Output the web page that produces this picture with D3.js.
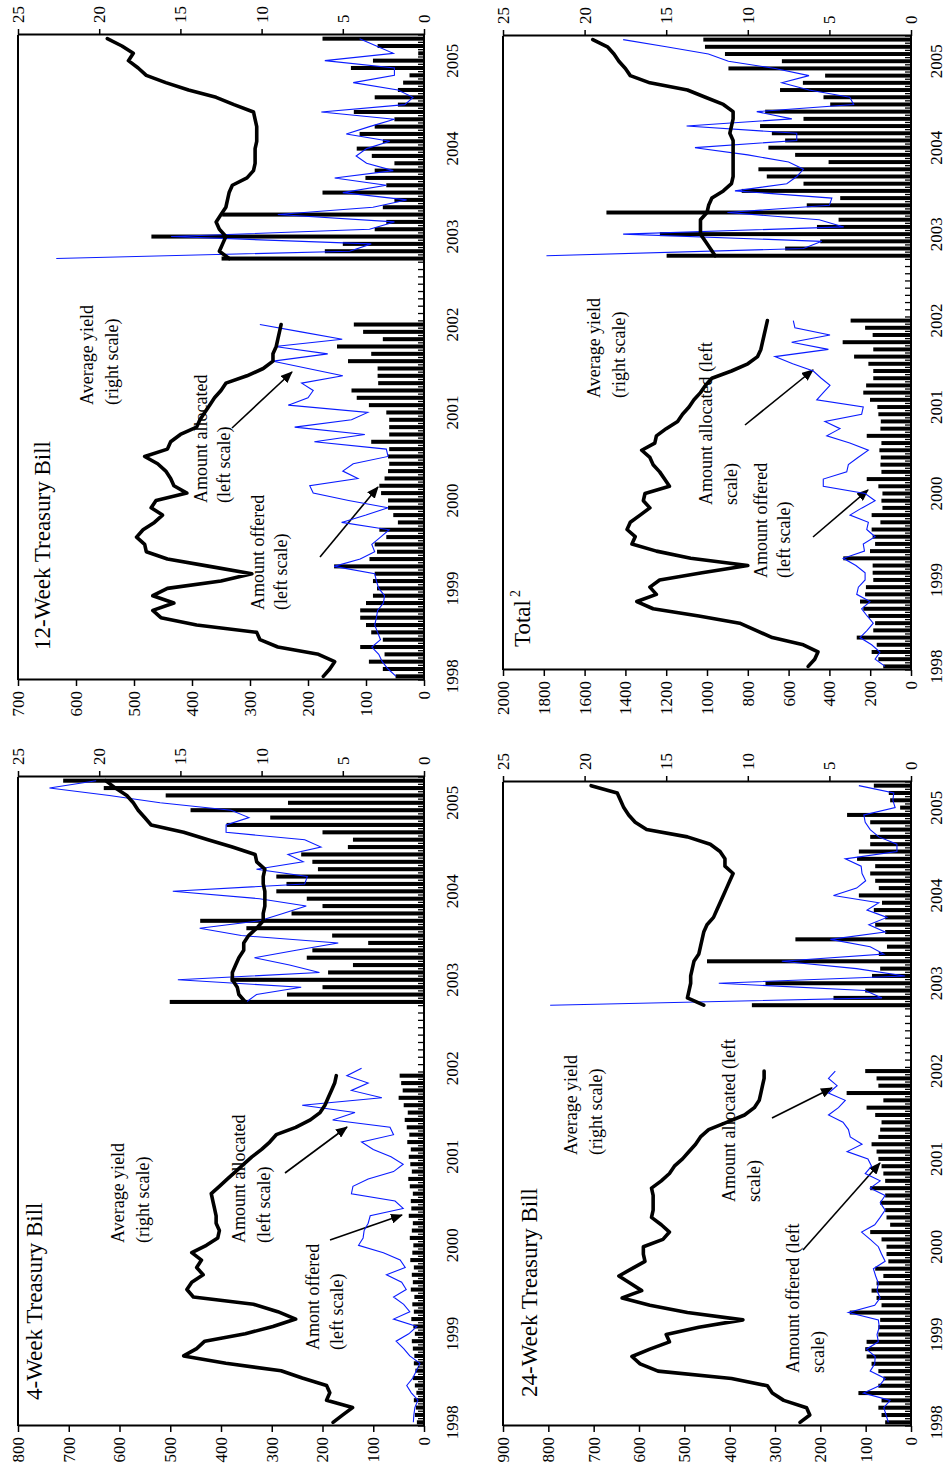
<!DOCTYPE html>
<html><head><meta charset="utf-8">
<script src="https://cdn.jsdelivr.net/npm/d3@7"></script>
<style>
body{margin:0;background:#fff}
svg{display:block}
text{font-family:"Liberation Serif","Times New Roman",serif;fill:#000}
</style>
</head><body>
<svg id="c" width="945" height="1473"></svg>
<script>
// ---------- categories (monthly, Jan 1998 - Apr 2005) ----------
const years = ["1998","1999","2000","2001","2002","2003","2004","2005"];
const monthNames = ["Jan","Feb","Mar","Apr","May","Jun","Jul","Aug","Sep","Oct","Nov","Dec"];
const categories = [];
years.forEach(y => monthNames.forEach(m => categories.push(m + " " + y)));
categories.length = 88;
const postStart = 57; // first month after the 2002 gap (Oct 2002)

// ---------- 4-week bill ----------
const offered4Pre = [14,18,16,20,15,18,22,17,20,19,22,24,18,21,25,20,23,19,26,22,24,20,27,23,21,28,24,22,30,25,26,22,28,31,24,27,30,26,33,29,34,38,32,40,50,42,45,48];
const offered4Post = [501,270,200,381,189,140,231,220,110,181,350,441,261,200,231,291,271,291,209,220,242,150,140,200,389,303,460,268,509,631,711];
const alloc4Pre = [21,20,18,12,25,34,22,15,8,28,40,55,30,14,60,28,40,60,35,44,74,37,47,80,129,120,118,110,106,41,57,143,140,110,60,41,65,100,123,60,67,180,136,240,83,143,110,152,123];
const alloc4Post = [350,330,242,485,206,265,334,252,169,360,442,324,278,232,324,495,235,230,330,238,268,203,235,390,390,345,380,520,620,738,646];
const yield4Pre = [5.6,5.0,4.4,6.0,5.8,6.0,7.5,8.8,12.2,14.8,14.0,13.5,11.0,9.3,7.9,9.0,10.5,14.2,14.6,14.3,13.6,14.0,13.7,14.3,13.4,12.7,12.6,12.8,12.8,12.9,13.0,13.1,12.6,12.1,11.6,11.1,10.6,10.0,9.5,9.1,7.9,7.0,6.4,6.1,5.9,5.7,5.5,5.4];
const yield4Post = [11.0,11.4,11.5,11.8,11.8,11.6,11.4,11.1,11.1,10.8,10.3,9.9,9.9,9.8,9.8,9.8,9.9,9.9,9.8,10.3,10.4,11.8,13.3,14.8,16.8,17.2,17.6,17.9,18.3,19.0,19.6];

// ---------- 12-week bill ----------
const offered12Pre = [49,71,95,68,110,71,91,100,110,110,100,88,81,88,85,155,94,81,85,65,77,45,53,62,62,74,77,68,62,60,62,60,91,60,60,60,65,95,116,125,79,80,80,131,91,150,71,105,121];
const offered12Post = [349,171,140,470,85,65,348,71,51,175,65,101,85,51,90,116,71,111,85,51,121,45,85,45,36,25,126,88,10,80,175];
const alloc12Pre = [48,62,72,78,90,75,80,85,82,80,70,68,78,82,85,155,110,85,90,75,60,142,100,62,130,191,197,114,140,122,62,65,189,102,223,125,97,234,200,191,211,140,200,260,166,257,141,212,283];
const alloc12Post = [634,128,91,436,94,51,252,88,30,140,65,154,53,99,117,99,59,134,94,51,177,33,19,45,122,51,51,171,53,82,111];
const yield12Pre = [6.2,5.8,5.5,6.5,9.0,10.1,10.3,14.0,16.2,16.7,15.4,16.7,15.8,12.5,10.6,13.2,15.8,17.1,17.2,17.7,17.3,16.6,16.1,16.8,16.5,14.6,15.4,15.6,15.9,16.4,17.2,15.8,15.6,15.0,14.0,13.8,13.5,13.2,12.9,12.5,12.2,10.9,9.9,9.3,9.3,9.1,9.0,8.9,8.8];
const yield12Post = [12.0,12.6,12.4,12.2,12.6,12.8,12.5,12.2,12.1,12.0,11.8,10.9,10.5,10.4,10.4,10.4,10.3,10.3,10.3,10.4,10.5,11.7,12.8,14.5,15.9,17.1,17.6,18.2,17.9,18.6,19.5];

// ---------- 24-week bill ----------
const offered24Pre = [57,65,72,65,116,72,61,72,87,98,101,98,72,72,68,135,65,76,87,76,61,79,50,54,54,65,90,46,54,57,68,57,90,57,61,65,72,76,87,72,68,65,79,98,61,142,72,76,101];
const offered24Post = [351,171,101,321,86,68,450,71,53,255,57,79,57,82,64,115,71,79,90,79,119,115,90,90,68,90,141,24,46,49,82];
const alloc24Pre = [50,55,60,46,105,70,57,90,80,79,98,72,75,70,72,138,80,68,75,72,78,83,57,65,72,90,109,80,68,57,68,57,90,68,101,87,95,141,108,134,138,150,182,160,145,182,163,182,167];
const alloc24Post = [796,64,101,424,13,120,285,60,90,178,57,93,53,97,71,171,120,100,108,110,145,31,31,71,90,101,104,35,40,38,115];
const yield24Pre = [6.8,6.2,6.4,7.8,8.5,8.8,11.0,15.5,16.6,17.1,16.0,14.8,15.0,13.0,10.3,13.7,16.0,17.7,16.5,17.2,17.9,17.1,16.3,16.4,16.4,15.2,14.8,15.3,15.9,15.8,15.8,15.8,15.9,15.3,14.8,14.5,14.0,13.6,13.2,12.9,12.4,11.3,10.2,9.6,9.3,9.2,9.1,9.0,9.0];
const yield24Post = [12.7,13.7,13.6,13.5,13.5,13.4,13.3,13.0,12.9,12.8,12.7,12.5,12.1,11.9,11.7,11.5,11.3,11.1,10.9,11.4,11.4,11.7,12.3,13.7,16.2,16.9,17.3,17.6,17.8,18.0,19.6];

// ---------- Total ----------
const offeredTPre = [136,160,193,168,266,185,176,209,234,250,225,221,185,188,188,332,201,176,188,193,150,193,140,145,140,160,217,145,150,148,155,145,217,150,148,160,165,201,234,220,185,185,209,279,185,335,188,225,296];
const offeredTPost = [1198,617,445,1231,461,355,1493,511,347,830,527,707,748,404,568,699,617,682,740,527,715,396,429,642,530,421,895,633,912,1010,1018];
const allocTPre = [127,176,152,193,250,215,185,215,242,201,266,258,225,225,270,332,228,234,176,217,209,299,240,176,225,430,430,315,307,260,209,300,413,348,422,242,234,462,430,397,440,479,580,667,405,585,397,569,577];
const allocTPost = [1787,527,437,1411,330,450,900,400,388,863,609,560,527,600,800,1059,560,560,1100,584,756,281,300,500,633,500,666,895,993,1200,1411];
const yieldTPre = [6.3,5.9,5.7,6.6,8.5,9.5,10.5,13.0,15.8,16.8,15.6,16.0,15.4,12.8,10.0,13.5,15.6,17.1,16.9,17.4,17.2,16.6,16.0,16.4,16.3,14.8,15.1,15.4,15.8,16.0,16.5,15.7,15.6,15.0,14.3,14.0,13.6,13.3,12.9,12.6,12.2,11.0,10.0,9.4,9.2,9.1,9.0,8.9,8.8];
const yieldTPost = [12.0,12.3,12.6,12.9,12.9,12.9,12.5,12.4,12.2,11.5,11.0,10.9,10.9,10.9,10.9,10.9,10.9,11.1,11.0,10.9,10.9,11.5,12.6,13.7,16.0,17.2,17.5,17.9,18.2,18.6,19.5];

const rightTicks = [0,5,10,15,20,25];

// join the two sub-periods with an empty gap
function series(pre, post){
  const a = pre.slice();
  while (a.length < postStart) a.push(null);
  return a.concat(post);
}

// ---------- layout (landscape frame, rotated onto the portrait page) ----------
const panels = [
  {title:"4-Week Treasury Bill", sup:null, u0:47, u1:696, v0:18, v1:424, lmax:800, lstep:100, yearOff:34,
   offered:series(offered4Pre,offered4Post), alloc:series(alloc4Pre,alloc4Post), yld:series(yield4Pre,yield4Post),
   titlePos:[73,42],
   notes:[["Average yield",230,124],["(right scale)",230,149],["Amount allocated",230,245],["(left scale)",230,270],["Amont offered",123,319],["(left scale)",123,343]],
   arrows:[[300,285,346,347],[233,330,258,402]]},
  {title:"12-Week Treasury Bill", sup:null, u0:793, u1:1438, v0:18, v1:424, lmax:700, lstep:100, yearOff:34,
   offered:series(offered12Pre,offered12Post), alloc:series(alloc12Pre,alloc12Post), yld:series(yield12Pre,yield12Post),
   titlePos:[823,50],
   notes:[["Average yield",1068,93],["(right scale)",1068,118],["Amount allocated",970,207],["(left scale)",970,230],["Amount offered",863,264],["(left scale)",863,287]],
   arrows:[[1045,232,1101,292],[916,320,986,378]]},
  {title:"24-Week Treasury Bill", sup:null, u0:47, u1:691, v0:503, v1:911, lmax:900, lstep:100, yearOff:31,
   offered:series(offered24Pre,offered24Post), alloc:series(alloc24Pre,alloc24Post), yld:series(yield24Pre,yield24Post),
   titlePos:[76,537],
   notes:[["Average yield",318,577],["(right scale)",318,602],["Amount allocated (left",271,735],["scale)",271,760],["Amount offered (left",100,799],["scale)",100,824]],
   arrows:[[355,772,385,832],[223,803,310,880]]},
  {title:"Total", sup:"2", u0:803, u1:1437, v0:503, v1:911, lmax:2000, lstep:200, yearOff:31,
   offered:series(offeredTPre,offeredTPost), alloc:series(allocTPre,allocTPost), yld:series(yieldTPre,yieldTPost),
   titlePos:[826,530],
   notes:[["Average yield",1075,600],["(right scale)",1075,625],["Amount allocated (left",968,712],["scale)",968,737],["Amount offered",895,767],["(left scale)",895,790]],
   arrows:[[1048,745,1103,813],[936,813,983,868]]}
];

const svg = d3.select("#c");
svg.append("rect").attr("width",945).attr("height",1473).attr("fill","#fff");
const defs = svg.append("defs");
defs.append("marker").attr("id","ah").attr("viewBox","0 0 12 10").attr("refX",11).attr("refY",5)
  .attr("markerWidth",12).attr("markerHeight",10).attr("markerUnits","userSpaceOnUse").attr("orient","auto")
  .append("path").attr("d","M0,0 L12,5 L0,10 Z").attr("fill","#000");

const root = svg.append("g").attr("transform","translate(0,1473) rotate(-90)");
const FONT = '"Liberation Serif","Times New Roman",serif';

panels.forEach(p => {
  const g = root.append("g");
  const x = d3.scaleBand().domain(d3.range(categories.length)).range([p.u0,p.u1]).paddingInner(0.45).paddingOuter(0.225);
  const bw = x.bandwidth();
  const step = x.step();
  const yL = d3.scaleLinear().domain([0,p.lmax]).range([p.v1,p.v0]);
  const yR = d3.scaleLinear().domain([0,25]).range([p.v1,p.v0]);
  const cx = i => x(i) + bw/2;

  // title
  const t = g.append("text").attr("x",p.titlePos[0]).attr("y",p.titlePos[1]).attr("font-size",23).text(p.title);
  if (p.sup) t.append("tspan").attr("dx",3).attr("dy",-10).attr("font-size",14).text(p.sup);

  // annotations
  p.notes.forEach(n => g.append("text").attr("x",n[1]).attr("y",n[2]).attr("font-size",18).text(n[0]));
  p.arrows.forEach(a => g.append("line").attr("x1",a[0]).attr("y1",a[1]).attr("x2",a[2]).attr("y2",a[3])
     .attr("stroke","#000").attr("stroke-width",1.6).attr("marker-end","url(#ah)"));

  // bars: amount offered
  g.append("g").selectAll("rect").data(p.offered.map((v,i)=>({v,i})).filter(d=>d.v!=null)).join("rect")
    .attr("x",d=>x(d.i)).attr("width",bw).attr("y",d=>yL(d.v)).attr("height",d=>p.v1-yL(d.v)).attr("fill","#000");

  // amount allocated (blue)
  const lineL = d3.line().defined(d=>d!=null).x((d,i)=>cx(i)).y(d=>yL(d));
  g.append("path").attr("d",lineL(p.alloc)).attr("fill","none").attr("stroke","#0a1cff").attr("stroke-width",1.1);

  // average yield
  const lineR = d3.line().defined(d=>d!=null).x((d,i)=>cx(i)).y(d=>yR(d));
  g.append("path").attr("d",lineR(p.yld)).attr("fill","none").attr("stroke","#000").attr("stroke-width",3.6)
    .attr("stroke-linejoin","round").attr("stroke-linecap","round");

  // left axis
  const ga = g.append("g").attr("transform",`translate(${p.u0},0)`)
    .call(d3.axisLeft(yL).tickValues(d3.range(0,p.lmax+1,p.lstep)).tickFormat(d3.format("d")).tickSize(6).tickPadding(5).tickSizeOuter(0));
  ga.attr("font-family",FONT).attr("font-size",17);
  ga.select(".domain").attr("stroke-width",2);
  ga.selectAll(".tick line").attr("stroke-width",1.5);

  // right axis
  const gr = g.append("g").attr("transform",`translate(${p.u1},0)`)
    .call(d3.axisRight(yR).tickValues(rightTicks).tickFormat(d3.format("d")).tickSize(6).tickPadding(6).tickSizeOuter(0));
  gr.attr("font-family",FONT).attr("font-size",17);
  gr.select(".domain").attr("stroke-width",2);
  gr.selectAll(".tick line").attr("stroke-width",1.5);

  // top border
  g.append("line").attr("x1",p.u0).attr("x2",p.u1).attr("y1",p.v0).attr("y2",p.v0).attr("stroke","#000").attr("stroke-width",2);

  // category axis
  g.append("line").attr("x1",p.u0).attr("x2",p.u1).attr("y1",p.v1).attr("y2",p.v1).attr("stroke","#000").attr("stroke-width",2);
  g.append("g").selectAll("line").data(d3.range(categories.length+1)).join("line")
    .attr("x1",k=>p.u0+k*step).attr("x2",k=>p.u0+k*step).attr("y1",p.v1).attr("y2",p.v1-6)
    .attr("stroke","#000").attr("stroke-width",1.3);
  g.append("g").selectAll("text").data(years).join("text")
    .attr("x",(yr,k)=>cx(k*12)).attr("y",p.v1+p.yearOff).attr("text-anchor","middle").attr("font-size",17).text(d=>d);
});
</script>
</body></html>
